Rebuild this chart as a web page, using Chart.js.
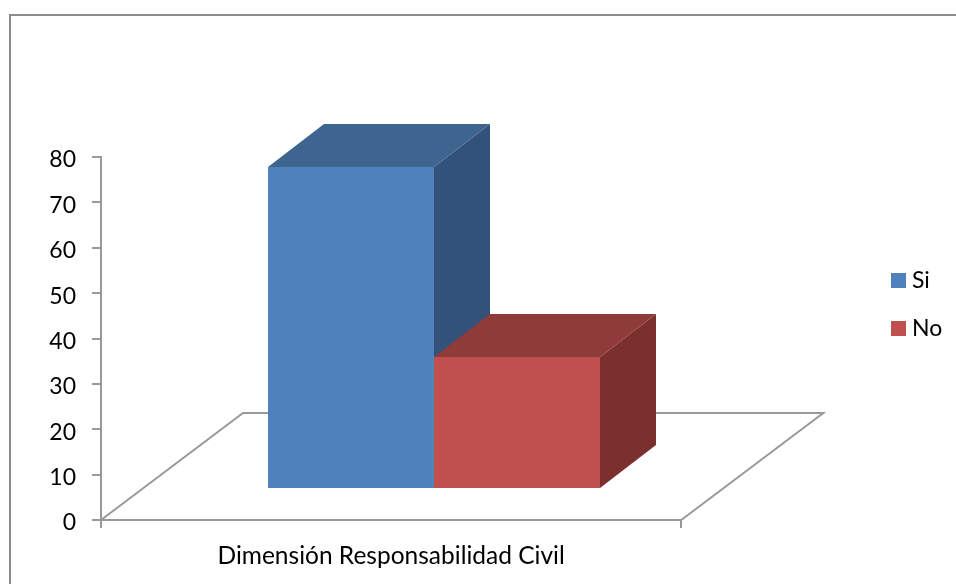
<!DOCTYPE html>
<html>
<head>
<meta charset="utf-8">
<style>
  html, body { margin: 0; background: #fff; overflow: hidden; }
  #frame { position: absolute; left: 9px; top: 14px; right: 0; bottom: 0; border-left: 2px solid #8c8c8c; border-top: 2px solid #8c8c8c; }
  canvas { position: absolute; left: 0; top: 0; }
</style>
<script src="https://cdn.jsdelivr.net/npm/chart.js@4"></script>
</head>
<body>
<div id="frame"></div>
<canvas id="chart" width="956" height="584"></canvas>
<script>
const categories = ['Dimensión Responsabilidad Civil'];
const si = [71];
const no = [29];
const yTicksMax = 80;
const yTicksStep = 10;

const axisColor = '#999';
const textFont = {family: 'Lato', size: 23};
const categoryFont = {family: 'Lato', size: 24.5};

// floor goes back by this much, bars stand part way in and have their own depth
const floorDepth = {x: 142, y: -107};
const barShift = {x: 43, y: -31};
const barDepth = {x: 56, y: -43};

function poly(ctx, pts, color) {
  ctx.fillStyle = color;
  ctx.beginPath();
  pts.forEach((p, i) => i ? ctx.lineTo(p[0], p[1]) : ctx.moveTo(p[0], p[1]));
  ctx.closePath();
  ctx.fill();
}

// legend square as an image, so the gap to the text can be tighter than the default
function swatch(color) {
  const c = document.createElement('canvas');
  c.width = c.height = 15;
  const g = c.getContext('2d');
  g.fillStyle = color;
  g.fillRect(0, 0, 15, 15);
  return c;
}

const bars3d = {
  id: 'bars3d',
  afterLayout(chart) {
    // legend sits off on its own at the right, keep its clip box in step
    const lg = chart.legend;
    const pad = chart.options.plugins.legend.labels.padding;
    lg.left = 896.5 - pad;
    lg.top = 234 - pad;
    lg.right = 956;
    lg.bottom = 400;
  },
  beforeDatasetsDraw(chart) {
    const {ctx, chartArea: a} = chart;
    ctx.save();
    ctx.strokeStyle = axisColor;
    ctx.lineWidth = 2;
    ctx.beginPath();
    ctx.moveTo(a.left, a.bottom);
    ctx.lineTo(a.left + floorDepth.x, a.bottom + floorDepth.y);
    ctx.lineTo(a.right + floorDepth.x, a.bottom + floorDepth.y);
    ctx.lineTo(a.right, a.bottom);
    ctx.stroke();

    // draw back to front: blue first, red covers the foot of its side
    chart.data.datasets.forEach((ds, i) => {
      chart.getDatasetMeta(i).data.forEach(el => {
        // whole pixels, otherwise the seams between faces show through
        const l = Math.round(el.x - el.width / 2 + barShift.x);
        const r = Math.round(el.x + el.width / 2 + barShift.x);
        const t = Math.round(el.y + barShift.y);
        const b = Math.round(el.base + barShift.y);
        const dx = barDepth.x, dy = barDepth.y;
        poly(ctx, [[r, t], [r + dx, t + dy], [r + dx, b + dy], [r, b]], ds.sideColor);
        poly(ctx, [[l, t], [l + dx, t + dy], [r + dx, t + dy], [r, t]], ds.topColor);
        poly(ctx, [[l, t], [r, t], [r, b], [l, b]], ds.backgroundColor);
      });
    });
    ctx.restore();
    return false;
  }
};

new Chart(document.getElementById('chart'), {
  type: 'bar',
  plugins: [bars3d],
  data: {
    labels: categories,
    datasets: [
      {label: 'Si', data: si, backgroundColor: '#4f81bd', topColor: '#3e6490', sideColor: '#32527a', borderWidth: 0},
      {label: 'No', data: no, backgroundColor: '#c0504d', topColor: '#8f3b39', sideColor: '#7b2f2e', borderWidth: 0}
    ]
  },
  options: {
    responsive: false,
    animation: false,
    categoryPercentage: 0.5724,
    barPercentage: 1,
    layout: {padding: {left: 0, top: 157, right: 194, bottom: 0}},
    plugins: {
      tooltip: {enabled: false},
      legend: {
        position: 'right',
        labels: {
          usePointStyle: true,
          boxWidth: 4,
          boxHeight: 15,
          padding: 25,
          color: '#000',
          font: textFont,
          generateLabels(chart) {
            const items = Chart.defaults.plugins.legend.labels.generateLabels(chart);
            items.forEach(it => { it.pointStyle = swatch(it.fillStyle); });
            return items;
          }
        }
      }
    },
    scales: {
      x: {
        grid: {drawOnChartArea: false, offset: true, color: axisColor, lineWidth: 2, tickLength: 8},
        border: {color: axisColor, width: 2},
        ticks: {color: '#000', font: categoryFont, padding: 13, maxRotation: 0},
        afterFit(s) { s.height = 64; }
      },
      y: {
        min: 0,
        max: yTicksMax,
        grid: {drawOnChartArea: false, color: axisColor, lineWidth: 2, tickLength: 9},
        border: {color: axisColor, width: 2},
        ticks: {stepSize: yTicksStep, color: '#000', font: textFont, padding: 16, labelOffset: 3},
        afterFit(s) { s.width = 101; }
      }
    }
  }
});
</script>
</body>
</html>
